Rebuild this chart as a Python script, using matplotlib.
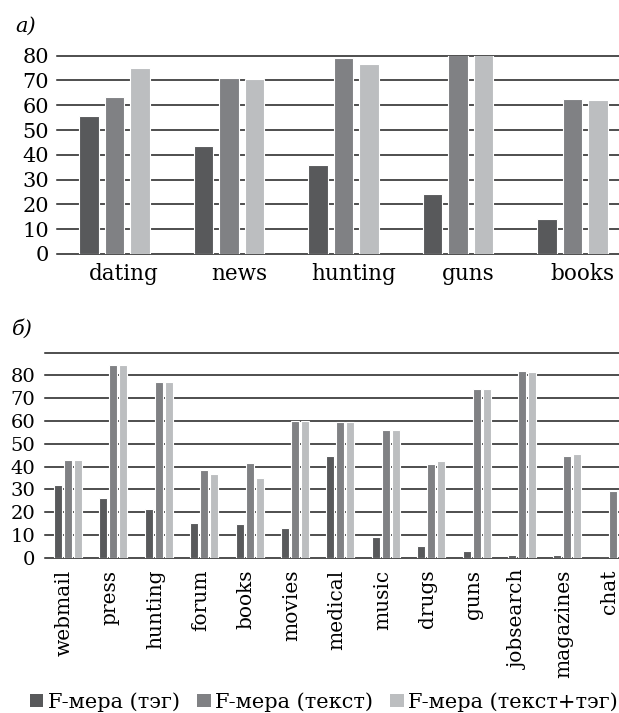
import numpy as np
import matplotlib
matplotlib.use("Agg")
import matplotlib.pyplot as plt
from matplotlib.patches import Patch
from matplotlib.transforms import ScaledTranslation

plt.rcParams['font.family'] = ['DejaVu Serif']

# Panel (а): F-measure per category
cats_a = ["dating", "news", "hunting", "guns", "books"]
tag_a = [55.5, 43.5, 36.0, 24.3, 14.0]
text_a = [63.3, 71.0, 79.0, 80.5, 62.4]
both_a = [75.0, 70.5, 76.5, 80.5, 62.0]

# Panel (б): F-measure per category
cats_b = ["webmail", "press", "hunting", "forum", "books", "movies", "medical",
          "music", "drugs", "guns", "jobsearch", "magazines", "chat"]
tag_b = [32.0, 26.0, 21.2, 15.1, 14.6, 12.9, 44.4, 9.1, 5.0, 3.1, 1.2, 1.2, 0.0]
text_b = [42.7, 84.4, 76.9, 38.5, 41.5, 60.0, 59.6, 56.0, 41.0, 73.9, 81.9, 44.6, 29.4]
both_b = [42.7, 84.4, 76.9, 36.8, 34.9, 60.0, 59.6, 55.9, 42.3, 73.9, 81.3, 45.3, 27.9]

series_names = ["F-мера (тэг)", "F-мера (текст)", "F-мера (текст+тэг)"]
colors = ["#58595b", "#808184", "#bcbec0"]

W, H = 619, 713
fig = plt.figure(figsize=(W / 100, H / 100), dpi=100)


def draw_panel(ax, cats, series, yticks, ylabels, ytop, width, step, fs_y):
    x = np.arange(len(cats))
    for k, (vals, col) in enumerate(zip(series, colors)):
        ax.bar(x + (k - 1) * step, vals, width=width, color=col,
               edgecolor="white", linewidth=0.8, zorder=3)
    for v in yticks:
        ax.axhline(v, color="#1e1e1e", lw=1.1, zorder=1, clip_on=False)
    ax.set_xlim(-0.5, len(cats) - 0.5)
    ax.set_ylim(0, ytop)
    ax.set_yticks(yticks)
    ax.set_yticklabels(ylabels, fontsize=fs_y)
    ax.set_xticks(x)
    for s in ax.spines.values():
        s.set_visible(False)
    return x


def shift_labels(ax, fig, dx_px):
    off = ScaledTranslation(dx_px / 100, 0, fig.dpi_scale_trans)
    for lbl in ax.get_xticklabels():
        lbl.set_transform(lbl.get_transform() + off)


# Panel (а)
ax1 = fig.add_axes([57 / W, 1 - 254 / H, 573 / W, (254 - 55.7) / H])
draw_panel(ax1, cats_a, [tag_a, text_a, both_a], list(range(0, 81, 10)),
           [str(v) for v in range(0, 81, 10)], 80, 0.17, 0.2225, 15)
ax1.set_xticklabels(cats_a, fontsize=15.5)
ax1.tick_params(axis="x", length=0, pad=6.5)
ax1.tick_params(axis="y", length=0, pad=5.8)
shift_labels(ax1, fig, 10)

# Panel (б)
ax2 = fig.add_axes([45.3 / W, 1 - 557.7 / H, 13 * 45.4 / W, (557.7 - 352.5) / H])
draw_panel(ax2, cats_b, [tag_b, text_b, both_b], list(range(0, 91, 10)),
           [str(v) for v in range(0, 81, 10)] + [""], 90, 0.176, 0.22, 14)
ax2.set_xticklabels(cats_b, fontsize=14.5, rotation=90)
ax2.tick_params(axis="x", length=0, pad=8.6)
ax2.tick_params(axis="y", length=0, pad=7.4)
shift_labels(ax2, fig, -3.5)

# Panel captions
fig.text(15 / W, 1 - 26 / H, "а)", fontsize=15, style="italic", va="center", ha="left")
fig.text(12 / W, 1 - 329 / H, "б)", fontsize=15, style="italic", va="center", ha="left")

# Legend along the bottom
handles = [Patch(facecolor=c, edgecolor="none") for c in colors]
fig.legend(handles, series_names, loc="center left",
           bbox_to_anchor=(30 / W, 1 - 702 / H), ncol=3, frameon=False,
           fontsize=15, handlelength=0.64, handleheight=0.64,
           handletextpad=0.2, columnspacing=0.85, borderpad=0, borderaxespad=0)

fig.savefig("out.png", dpi=100)
